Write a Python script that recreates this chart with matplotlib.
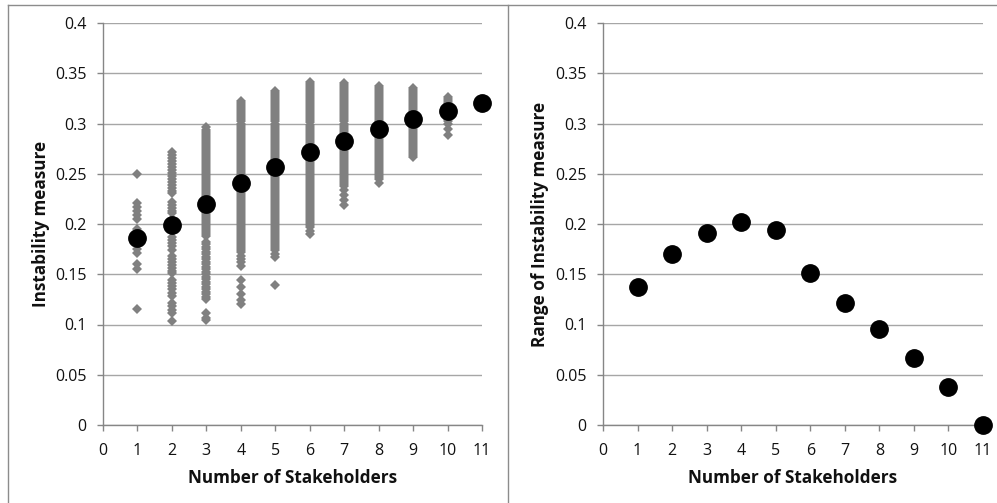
import matplotlib
matplotlib.use("Agg")
import matplotlib.pyplot as plt
from matplotlib.lines import Line2D

plt.rcParams['font.family'] = ['Open Sans', 'DejaVu Sans']

# ---- data (in thousandths) ----
stakeholders = [1, 2, 3, 4, 5, 6, 7, 8, 9, 10, 11]

inst_1 = [250, 221, 217, 213, 209, 205, 195, 185, 175, 171, 160, 155, 115]
inst_2 = [272, 269, 266, 263, 260, 257, 254, 251, 248, 245, 242, 239, 236, 233,
          231, 222, 219, 216, 213, 211, 205, 199, 193, 187, 184, 181, 178, 174,
          168, 165, 162, 159, 156, 153, 151, 144, 141, 138, 135, 131, 128, 121,
          118, 114, 111, 103]
inst_3 = [297, 294, 292, 290, 288, 286, 284, 282, 280, 278, 276, 274, 272, 270,
          268, 266, 264, 262, 260, 258, 256, 254, 252, 250, 248, 246, 244, 242,
          240, 238, 236, 234, 232, 230, 228, 226, 224, 222, 220, 218, 216, 214,
          212, 210, 208, 206, 204, 202, 200, 198, 196, 194, 192, 190, 188, 182,
          180, 177, 175, 172, 170, 167, 165, 162, 160, 157, 155, 152, 150, 147,
          145, 142, 140, 137, 135, 132, 130, 127, 125, 111, 106, 104]
inst_4 = [322, 320, 318, 316, 314, 312, 310, 308, 306, 304, 302, 300, 298, 296,
          294, 292, 290, 288, 286, 284, 282, 280, 278, 276, 274, 272, 270, 268,
          266, 264, 262, 260, 258, 256, 254, 252, 250, 248, 246, 244, 242, 240,
          238, 236, 234, 232, 230, 228, 226, 224, 222, 220, 218, 216, 214, 212,
          210, 208, 206, 204, 202, 200, 198, 196, 194, 192, 190, 188, 186, 184,
          182, 180, 178, 176, 174, 172, 168, 165, 162, 158, 144, 137, 130, 124,
          120]
inst_5 = [332, 330, 328, 326, 324, 322, 320, 318, 316, 314, 312, 310, 308, 306,
          304, 302, 300, 298, 296, 294, 292, 290, 288, 286, 284, 282, 280, 278,
          276, 274, 272, 270, 268, 266, 264, 262, 260, 258, 256, 254, 252, 250,
          248, 246, 244, 242, 240, 238, 236, 234, 232, 230, 228, 226, 224, 222,
          220, 218, 216, 214, 212, 210, 208, 206, 204, 202, 200, 198, 196, 194,
          192, 190, 188, 186, 184, 182, 180, 178, 176, 174, 170, 167, 139]
inst_6 = [341, 339, 337, 335, 333, 331, 329, 327, 325, 323, 321, 319, 317, 315,
          313, 311, 309, 307, 305, 303, 301, 299, 297, 295, 293, 291, 289, 287,
          285, 283, 281, 279, 277, 275, 273, 271, 269, 267, 265, 263, 261, 259,
          257, 255, 253, 251, 249, 247, 245, 243, 241, 239, 237, 235, 233, 231,
          229, 227, 225, 223, 221, 219, 217, 215, 213, 211, 209, 207, 205, 203,
          201, 199, 197, 193, 190]
inst_7 = [340, 338, 336, 334, 332, 330, 328, 326, 324, 322, 320, 318, 316, 314,
          312, 310, 308, 306, 304, 302, 300, 298, 296, 294, 292, 290, 288, 286,
          284, 282, 280, 278, 276, 274, 272, 270, 268, 266, 264, 262, 260, 258,
          256, 254, 252, 250, 248, 246, 244, 242, 240, 238, 234, 229, 224, 219]
inst_8 = [337, 335, 333, 331, 329, 327, 325, 323, 321, 319, 317, 315, 313, 311,
          309, 307, 305, 303, 301, 299, 297, 295, 293, 291, 289, 287, 285, 283,
          281, 279, 277, 275, 273, 271, 269, 267, 265, 263, 261, 259, 257, 255,
          253, 251, 249, 247, 245, 241]
inst_9 = [335, 333, 331, 329, 327, 325, 323, 321, 319, 317, 315, 313, 311, 309,
          307, 305, 303, 301, 299, 297, 295, 293, 291, 289, 287, 285, 283, 281,
          279, 277, 275, 273, 271, 269, 267]
inst_10 = [326, 324, 322, 320, 318, 316, 314, 312, 310, 308, 306, 304, 302, 300,
           295, 289]
inst_11 = [320]

mean_instability = [0.186, 0.199, 0.220, 0.241, 0.257, 0.272, 0.283, 0.295,
                    0.304, 0.312, 0.320]
range_instability = [0.137, 0.170, 0.191, 0.202, 0.194, 0.151, 0.121, 0.096,
                     0.067, 0.038, 0.000]

x_ticks = [0, 1, 2, 3, 4, 5, 6, 7, 8, 9, 10, 11]
y_ticks = [0, 0.05, 0.1, 0.15, 0.2, 0.25, 0.3, 0.35, 0.4]
y_tick_labels = ['0', '0.05', '0.1', '0.15', '0.2', '0.25', '0.3', '0.35', '0.4']

all_inst = [inst_1, inst_2, inst_3, inst_4, inst_5, inst_6, inst_7, inst_8,
            inst_9, inst_10, inst_11]

# ---- figure ----
W, H = 997, 503
fig = plt.figure(figsize=(W / 100, H / 100), dpi=100)

grid_c = '#a6a6a6'
axis_c = '#868686'
text_c = '#111111'


def style(ax, ylabel, ylab_x):
    ax.set_xlim(0, 11)
    ax.set_ylim(0, 0.4)
    ax.set_xticks(x_ticks)
    ax.set_xticklabels([str(t) for t in x_ticks])
    ax.set_yticks(y_ticks)
    ax.set_yticklabels(y_tick_labels)
    ax.yaxis.grid(True, color=grid_c, linewidth=1.0)
    ax.set_axisbelow(True)
    for s in ['top', 'right']:
        ax.spines[s].set_visible(False)
    for s in ['left', 'bottom']:
        ax.spines[s].set_color(axis_c)
        ax.spines[s].set_linewidth(1.0)
    ax.tick_params(axis='both', direction='out', length=4, width=1.0,
                   color=axis_c, labelcolor=text_c, labelsize=11.5)
    ax.tick_params(axis='y', pad=8)
    ax.tick_params(axis='x', pad=9)
    ax.set_xlabel('Number of Stakeholders', fontsize=12.3, fontweight='bold',
                  color=text_c)
    ax.set_ylabel(ylabel, fontsize=12.3, fontweight='bold', color=text_c)
    ax.xaxis.set_label_coords(0.5, -0.110)
    ax.yaxis.set_label_coords(ylab_x, 0.5)


ax1 = fig.add_axes([103 / W, 78 / H, 379 / W, 402 / H])
for xv, vals in zip(stakeholders, all_inst):
    ax1.plot([xv] * len(vals), [v / 1000 for v in vals], linestyle='none',
             marker='D', markersize=5.6, color='#808080', markeredgewidth=0,
             clip_on=False)
ax1.plot(stakeholders, mean_instability, linestyle='none', marker='o',
         markersize=12.5, color='black', clip_on=False, zorder=5)
style(ax1, 'Instability measure', -0.14)

ax2 = fig.add_axes([603 / W, 78 / H, 380 / W, 402 / H])
ax2.plot(stakeholders, range_instability, linestyle='none', marker='o',
         markersize=12.5, color='black', clip_on=False, zorder=5)
style(ax2, 'Range of Instability measure', -0.142)

# chart frames
frame_c = '#8c8c8c'
fig.add_artist(Line2D([8 / W, 8 / W], [0, 1 - 5 / H], color=frame_c, lw=1.0))
fig.add_artist(Line2D([508 / W, 508 / W], [0, 1 - 5 / H], color=frame_c, lw=1.0))
fig.add_artist(Line2D([8 / W, 1], [1 - 5 / H, 1 - 5 / H], color=frame_c, lw=1.0))

fig.savefig('out.png', dpi=100, facecolor='white')
